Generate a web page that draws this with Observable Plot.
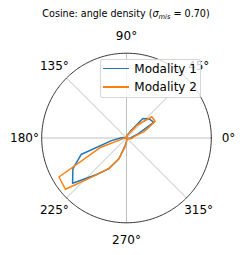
<!DOCTYPE html>
<html><head><meta charset="utf-8">
<script src="https://cdn.jsdelivr.net/npm/d3@7"></script>
<script src="https://cdn.jsdelivr.net/npm/@observablehq/plot@0.6"></script>
<style>
body{margin:0;background:#fff;font-family:"DejaVu Sans",sans-serif;}
#wrap{position:relative;width:244px;height:255px;overflow:hidden;background:#fff;}
#title{display:block;}
#chart svg{display:block;}
.abs{position:absolute;}
</style></head><body>
<div id="wrap">
<svg id="title" width="244" height="22"><text x="126" y="17.3" text-anchor="middle" font-family="DejaVu Sans" font-size="9.6" fill="#000">Cosine: angle density (<tspan font-style="italic">σ</tspan><tspan font-style="italic" font-size="6.7" dy="1.8">mis</tspan><tspan dy="-1.8"> = 0.70)</tspan></text></svg>
<div id="chart"></div>
</div>
<script>
// ---- data (angle in degrees, density relative to the outer circle) ----
const angles = [0,10,20,30,40,50,60,70,80,90,100,110,120,130,140,150,160,170,
                180,190,200,210,220,230,240,250,260,270,280,290,300,310,320,330,340,350];
const modality1 = [0.05,0.07,0.15,0.37,0.35,0.30,0.09,0.04,0.02,0.01,0.01,0.01,0.01,0.01,0.01,0.01,0.01,0.03,
                   0.07,0.18,0.57,0.73,0.83,0.57,0.42,0.26,0.09,0.04,0.02,0.02,0.01,0.01,0.01,0.01,0.02,0.03];
const modality2 = [0.07,0.09,0.22,0.39,0.39,0.20,0.07,0.04,0.02,0.01,0.01,0.01,0.01,0.01,0.01,0.01,0.01,0.02,
                   0.02,0.04,0.33,0.92,0.94,0.58,0.41,0.26,0.11,0.04,0.02,0.02,0.01,0.01,0.01,0.01,0.03,0.05];
const seriesNames = ["Modality 1","Modality 2"];
const seriesColors = ["#1f77b4","#ff7f0e"];
const tickAngles = [0,45,90,135,180,225,270,315];
const tickLabels = ["0°","45°","90°","135°","180°","225°","270°","315°"];
const rMax = 1.0;
const labelR = 1.203;

// ---- layout ----
const W = 244, H = 233, cx = 126, cy = 115.5, R = 84.8;
const rad = a => a * Math.PI / 180;

function closed(vals){
  const pts = angles.map((a,i)=>({a, r: vals[i]}));
  pts.push(pts[0]);
  return pts;
}
const series = [modality1, modality2].map(closed);

const chart = Plot.plot({
  width: W, height: H,
  marginLeft: cx - R, marginRight: W - (cx + R),
  marginTop: cy - R, marginBottom: H - (cy + R),
  x: {domain: [-rMax, rMax], axis: null},
  y: {domain: [-rMax, rMax], axis: null},
  style: {fontFamily: "DejaVu Sans", background: "white", overflow: "visible"},
  marks: [
    Plot.link(tickAngles, {x1: () => 0, y1: () => 0,
      x2: a => rMax*Math.cos(rad(a)), y2: a => rMax*Math.sin(rad(a)),
      stroke: "#b0b0b0", strokeWidth: 0.8}),
    ...series.map((pts, i) => Plot.line(pts, {
      x: d => d.r*Math.cos(rad(d.a)), y: d => d.r*Math.sin(rad(d.a)),
      stroke: seriesColors[i], strokeWidth: 1.5, strokeLinejoin: "round", curve: "linear"})),
    Plot.line(d3.range(0, 361), {x: a => rMax*Math.cos(rad(a)), y: a => rMax*Math.sin(rad(a)),
      stroke: "black", strokeWidth: 0.8}),
    Plot.text(tickAngles, {x: a => labelR*rMax*Math.cos(rad(a)), y: a => labelR*rMax*Math.sin(rad(a)),
      text: (a,i) => tickLabels[i], fontSize: 12, fill: "black"})
  ]
});
document.getElementById("chart").appendChild(chart);

// ---- legend (overlay, semi-transparent frame like matplotlib) ----
const wrap = document.getElementById("wrap");
const box = document.createElement("div");
box.className = "abs";
Object.assign(box.style, {left:"100px", top:"59.3px", width:"101px", height:"38.4px", boxSizing:"border-box",
  background:"rgba(255,255,255,0.8)", border:"0.8px solid rgba(204,204,204,0.8)", borderRadius:"2.5px"});
wrap.appendChild(box);
const rowY = [68.7, 87.0];
seriesNames.forEach((name, i) => {
  const ln = document.createElement("div");
  ln.className = "abs";
  Object.assign(ln.style, {left:"103.3px", top:(rowY[i]-0.75)+"px", width:"26px", height:"1.5px", background: seriesColors[i]});
  wrap.appendChild(ln);
  const tx = document.createElement("div");
  tx.className = "abs";
  tx.textContent = name;
  Object.assign(tx.style, {left:"134.3px", top:(rowY[i]-7)+"px", lineHeight:"14px", fontSize:"12px", whiteSpace:"nowrap", color:"#000"});
  wrap.appendChild(tx);
});
</script>
</body></html>
